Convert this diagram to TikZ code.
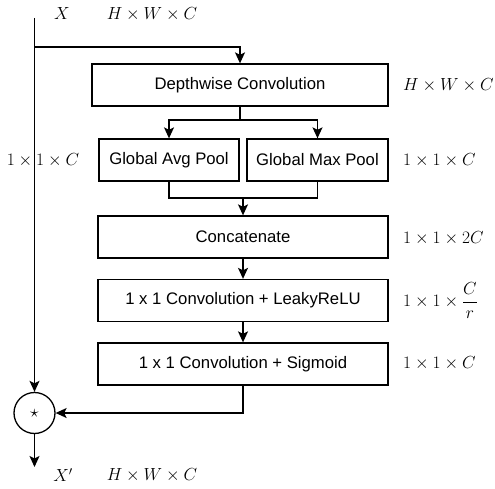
\documentclass[tikz,border=0pt]{standalone}
\usepackage{fix-cm}
\usepackage{amsmath}
\usepackage[no-math]{fontspec}
\newfontfamily\arialf{Liberation Sans}
\usetikzlibrary{arrows.meta}
\tikzset{
  box/.style={draw, line width=1.3pt, minimum height=42pt, inner sep=0pt,
    font=\arialf\fontsize{16.7}{20}\selectfont},
  mlab/.style={inner sep=0pt, font=\fontsize{17.5}{21}\selectfont},
  ln/.style={line width=1.3pt},
  arr/.style={line width=1.3pt, -{Stealth[length=11pt,width=10pt,inset=2.5pt]}},
}
\begin{document}
\begin{tikzpicture}[x=1pt,y=-1pt]
\useasboundingbox (0,0) rectangle (495,489);
% boxes
\node[box, minimum width=296pt] (dw) at (240,85) {Depthwise Convolution};
\node[box, minimum width=140pt] (avg) at (169,160) {Global Avg Pool};
\node[box, minimum width=141pt] (max) at (317.5,160) {Global Max Pool};
\node[box, minimum width=290pt] (cat) at (243,237) {Concatenate};
\node[box, minimum width=290pt] (leaky) at (243,300.5) {1 x 1 Convolution + LeakyReLU};
\node[box, minimum width=290pt] (sig) at (243,364) {1 x 1 Convolution + Sigmoid};
\node[draw, circle, line width=1.3pt, minimum size=41pt, inner sep=0pt,
  font=\fontsize{17.5}{21}\selectfont] (op) at (34.5,413) {$\star$};
% coordinates
\coordinate (top) at (34.5,18);
\coordinate (br) at (34.5,47);
\coordinate (s1) at (240,120);
\coordinate (m1) at (243,198);
\coordinate (out) at (34.5,467);
% connectors
\draw[arr] (top) -- (op.north);
\draw[arr] (br) -| (dw.north);
\draw[ln] (dw.south) -- (s1);
\draw[arr] (s1) -| (avg.north);
\draw[arr] (s1) -| (max.north);
\draw[ln] (avg.south) |- (m1);
\draw[ln] (max.south) |- (m1);
\draw[arr] (m1) -- (cat.north);
\draw[arr] (cat) -- (leaky);
\draw[arr] (leaky) -- (sig);
\draw[arr] (sig.south) |- (op.east);
\draw[arr] (op.south) -- (out);
% labels
\node[mlab] (xin) at (62,14) {$X$};
\node[mlab] (din) at (152,14) {$H\times W\times C$};
\node[mlab] (xout) at (63,475) {$X'$};
\node[mlab] (dout) at (152,475) {$H\times W\times C$};
\node[mlab] (dleft) at (43,160) {$1\times1\times C$};
\node[mlab, anchor=west] (d1) at (403,85) {$H\times W\times C$};
\node[mlab, anchor=west] (d2) at (403,160) {$1\times1\times C$};
\node[mlab, anchor=west] (d3) at (403,238) {$1\times1\times 2C$};
\node[mlab, anchor=west] (d4) at (403,300.5) {$1\times1\times \dfrac{C}{r}$};
\node[mlab, anchor=west] (d5) at (403,363) {$1\times1\times C$};
\end{tikzpicture}
\end{document}
